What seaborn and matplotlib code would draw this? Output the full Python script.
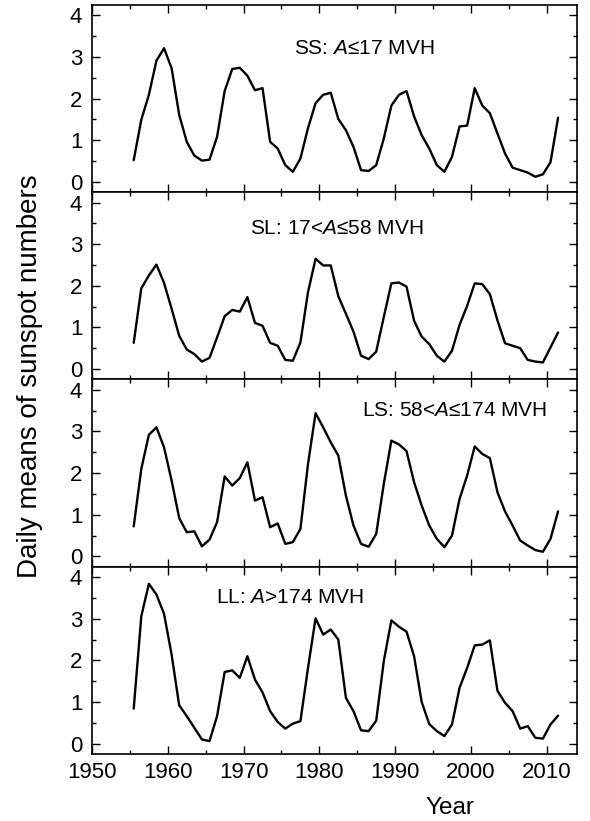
import numpy as np
import pandas as pd
import seaborn as sns
import matplotlib
matplotlib.use("Agg")
import matplotlib.pyplot as plt
from matplotlib.ticker import MultipleLocator

# ---- data (annual means, plotted at mid-year) ----
years = list(range(1955, 2012))

ss = [0.52, 1.49, 2.09, 2.91, 3.21, 2.73, 1.61, 0.96, 0.63, 0.51,
      0.53, 1.08, 2.18, 2.71, 2.74, 2.55, 2.20, 2.25, 0.96, 0.80,
      0.40, 0.24, 0.56, 1.29, 1.89, 2.09, 2.14, 1.51, 1.24, 0.84,
      0.28, 0.26, 0.40, 1.04, 1.83, 2.09, 2.18, 1.57, 1.12, 0.80,
      0.40, 0.24, 0.60, 1.33, 1.35, 2.25, 1.83, 1.65, 1.16, 0.68,
      0.34, 0.28, 0.22, 0.12, 0.18, 0.47, 1.54]

sl = [0.63, 1.94, 2.25, 2.51, 2.07, 1.45, 0.80, 0.47, 0.36, 0.18,
      0.27, 0.76, 1.27, 1.42, 1.38, 1.73, 1.11, 1.04, 0.63, 0.56,
      0.22, 0.20, 0.64, 1.85, 2.65, 2.49, 2.49, 1.75, 1.33, 0.90,
      0.32, 0.24, 0.42, 1.25, 2.06, 2.08, 1.98, 1.16, 0.78, 0.60,
      0.32, 0.18, 0.44, 1.06, 1.52, 2.06, 2.04, 1.80, 1.17, 0.62,
      0.56, 0.50, 0.22, 0.18, 0.16, 0.52, 0.88]

ls = [0.72, 2.10, 2.92, 3.10, 2.62, 1.82, 0.92, 0.58, 0.60, 0.24,
      0.40, 0.82, 1.92, 1.70, 1.88, 2.26, 1.34, 1.42, 0.70, 0.79,
      0.30, 0.34, 0.66, 2.22, 3.44, 3.10, 2.74, 2.42, 1.46, 0.74,
      0.30, 0.23, 0.54, 1.74, 2.78, 2.69, 2.53, 1.78, 1.22, 0.74,
      0.42, 0.22, 0.50, 1.38, 1.94, 2.64, 2.46, 2.36, 1.54, 1.08,
      0.74, 0.38, 0.26, 0.15, 0.11, 0.42, 1.08]

ll = [0.84, 3.06, 3.84, 3.58, 3.12, 2.14, 0.92, 0.66, 0.38, 0.10,
      0.06, 0.66, 1.72, 1.76, 1.58, 2.10, 1.54, 1.23, 0.78, 0.52,
      0.36, 0.48, 0.54, 1.82, 3.01, 2.62, 2.74, 2.50, 1.10, 0.78,
      0.32, 0.30, 0.55, 1.98, 2.96, 2.81, 2.69, 2.10, 1.00, 0.47,
      0.30, 0.18, 0.46, 1.34, 1.82, 2.36, 2.38, 2.48, 1.27, 0.98,
      0.78, 0.36, 0.42, 0.14, 0.12, 0.46, 0.67]

panel_keys = ["SS", "SL", "LS", "LL"]
panel_labels = ["SS: $A$≤17 MVH", "SL: 17<$A$≤58 MVH",
                "LS: 58<$A$≤174 MVH", "LL: $A$>174 MVH"]
label_pos = [(1985.9, 3.21), (1982.3, 3.37), (1997.9, 3.50), (1976.1, 3.50)]

df = pd.DataFrame({"year": np.array(years) + 0.5,
                   "SS": ss, "SL": sl, "LS": ls, "LL": ll})

# ---- style ----
sns.set_theme(style="ticks")
plt.rcParams["font.family"] = ["Liberation Sans", "DejaVu Sans"]
plt.rcParams["mathtext.fontset"] = "custom"
plt.rcParams["mathtext.it"] = "Liberation Sans:italic"
plt.rcParams["mathtext.rm"] = "Liberation Sans"
plt.rcParams["axes.linewidth"] = 1.2

fig, axes = plt.subplots(4, 1, figsize=(5.9, 8.21), dpi=100, sharex=True)
fig.subplots_adjust(left=0.156, right=0.978, top=0.994, bottom=0.0816, hspace=0)

for ax, key, lab, (lx, ly) in zip(axes, panel_keys, panel_labels, label_pos):
    sns.lineplot(data=df, x="year", y=key, ax=ax, color="black", linewidth=1.7)
    ax.set_xlim(1950, 2014)
    ax.set_ylim(-0.25, 4.25)
    ax.xaxis.set_major_locator(MultipleLocator(10))
    ax.xaxis.set_minor_locator(MultipleLocator(5))
    ax.yaxis.set_major_locator(MultipleLocator(1))
    ax.yaxis.set_minor_locator(MultipleLocator(0.5))
    ax.tick_params(which="both", direction="in", top=True, right=True,
                   labelsize=16, colors="black")
    ax.tick_params(which="major", length=5.5, width=1.0)
    ax.tick_params(which="minor", length=3, width=1.0)
    ax.tick_params(axis="y", pad=7)
    ax.tick_params(axis="x", pad=6)
    ax.set_xlabel("")
    ax.set_ylabel("")
    for sp in ax.spines.values():
        sp.set_color("black")
    ax.text(lx, ly, lab, ha="center", va="center", fontsize=15, color="black")

axes[-1].set_xlabel("Year", fontsize=17.5, color="black")
axes[-1].xaxis.label.set_va("center")
axes[-1].xaxis.set_label_coords(0.738, -0.29)

fig.text(30 / 590, 1 - 376 / 821, "Daily means of sunspot numbers",
         rotation=90, ha="center", va="center", fontsize=20, color="black")

fig.savefig("out.png", dpi=100)
